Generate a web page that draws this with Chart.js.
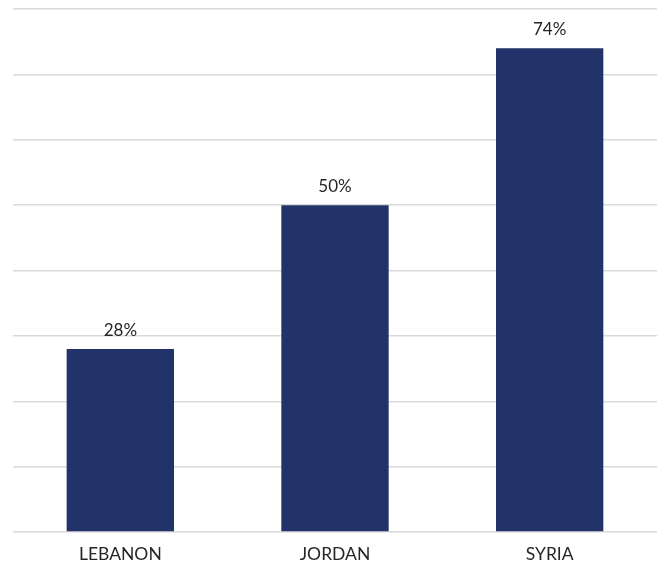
<!DOCTYPE html>
<html>
<head>
<meta charset="utf-8">
<script src="https://cdn.jsdelivr.net/npm/chart.js@4/dist/chart.umd.min.js"></script>
<style>
html, body { margin: 0; padding: 0; background: #fff; }
#wrap { width: 662px; height: 566px; }
</style>
</head>
<body>
<div id="wrap"><canvas id="bar-chart"></canvas></div>
<script>
const countries = ["LEBANON", "JORDAN", "SYRIA"];
const shares = [28, 50, 74];

// value labels above each bar
const valueLabels = {
    id: 'valueLabels',
    afterDatasetsDraw(chart) {
        const ctx = chart.ctx;
        const meta = chart.getDatasetMeta(0);
        ctx.save();
        ctx.font = '17px Lato';
        ctx.fillStyle = '#262626';
        ctx.textAlign = 'center';
        ctx.textBaseline = 'bottom';
        meta.data.forEach(function (bar, i) {
            ctx.fillText(shares[i] + '%', bar.x, bar.y - 10);
        });
        ctx.restore();
    }
};

new Chart(document.getElementById("bar-chart"), {
    type: 'bar',
    data: {
        labels: countries,
        datasets: [{
            data: shares,
            backgroundColor: "#223369",
            barPercentage: 0.5,
            categoryPercentage: 1
        }]
    },
    options: {
        responsive: true,
        maintainAspectRatio: false,
        animation: false,
        layout: {
            padding: { left: 13, right: 5, top: 9, bottom: 0 }
        },
        plugins: {
            legend: { display: false },
            tooltip: { enabled: false }
        },
        scales: {
            x: {
                grid: { display: false, drawTicks: false },
                border: { display: false },
                ticks: {
                    color: '#262626',
                    font: { family: 'Lato', size: 17.5 },
                    padding: 12
                },
                afterFit(scale) {
                    scale.height = 34;
                }
            },
            y: {
                min: 0,
                max: 80,
                ticks: { display: false, stepSize: 10 },
                grid: { color: '#d9d9d9', lineWidth: 1.5, drawTicks: false },
                border: { display: false }
            }
        }
    },
    plugins: [valueLabels]
});
</script>
</body>
</html>
